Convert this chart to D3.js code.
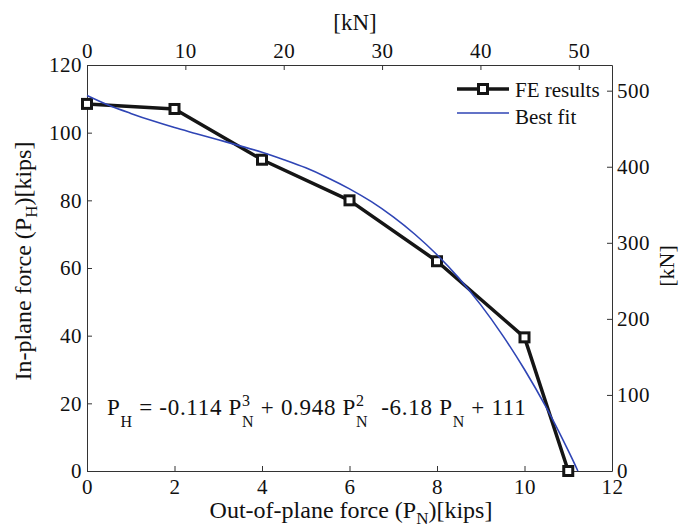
<!DOCTYPE html>
<html>
<head>
<meta charset="utf-8">
<script src="https://cdn.jsdelivr.net/npm/d3@7"></script>
<style>
  html, body { margin: 0; padding: 0; background: #fff; }
  svg { display: block; }
  svg text { font-family: "Times New Roman", "Liberation Serif", Tinos, "DejaVu Serif", serif; fill: #111; }
</style>
</head>
<body>
<svg id="chart" width="679" height="528"></svg>
<script>
// ---- data (kips) ----
const feForce = [0, 2, 4, 6, 8, 10, 11];            // out-of-plane force P_N
const feInPlane = [108.5, 107, 92, 80, 62, 39.5, 0]; // in-plane force P_H

const fitForce = [0, 0.5, 1, 1.5, 2, 2.5, 3, 3.5, 4, 4.5, 5, 5.5, 6, 6.5, 7, 7.5, 8, 8.5, 9, 9.5, 10, 10.5, 11, 11.22];
const fitInPlane = [111, 108.1, 105.7, 103.5, 101.5, 99.7, 97.9, 96.1, 94.2, 92.0, 89.6, 86.7, 83.4, 79.6, 75.1, 69.9, 63.9, 57.0, 49.1, 40.1, 30.0, 18.7, 6.0, 0];

const fitCoeffs = [-0.114, 0.948, -6.18, 111]; // P_N^3, P_N^2, P_N, constant

const xTicks = [0, 2, 4, 6, 8, 10, 12];
const yTicks = [0, 20, 40, 60, 80, 100, 120];
const kNTopTicks = [0, 10, 20, 30, 40, 50];
const kNRightTicks = [0, 100, 200, 300, 400, 500];
const seriesNames = ["FE results", "Best fit"];

const KN_PER_KIP = 4.448;

// ---- layout ----
const svg = d3.select("#chart");
const L = 87, R = 612, T = 65, B = 471;
const SERIF = '"Times New Roman", "Liberation Serif", Tinos, "DejaVu Serif", serif';

const x = d3.scaleLinear().domain([0, 12]).range([L, R]);
const y = d3.scaleLinear().domain([0, 120]).range([B, T]);
const xKN = d3.scaleLinear().domain([0, 12 * KN_PER_KIP]).range([L, R]);
const yKN = d3.scaleLinear().domain([0, 120 * KN_PER_KIP]).range([B, T]);

const tickFont = 21;
function styleAxis(g) {
  g.attr("font-family", SERIF).attr("font-size", tickFont);
  g.selectAll(".domain").attr("stroke", "#333").attr("stroke-width", 1);
  g.selectAll(".tick line").attr("stroke", "#333").attr("stroke-width", 1);
  g.selectAll(".tick text").attr("fill", "#111").attr("letter-spacing", 0.5);
}

svg.append("g").attr("transform", `translate(0,${B})`)
  .call(d3.axisBottom(x).tickValues(xTicks).tickSizeInner(-5).tickSizeOuter(0).tickPadding(8))
  .call(styleAxis);
svg.append("g").attr("transform", `translate(${L},0)`)
  .call(d3.axisLeft(y).tickValues(yTicks).tickSizeInner(-5).tickSizeOuter(0).tickPadding(5))
  .call(styleAxis);
svg.append("g").attr("transform", `translate(0,${T})`)
  .call(d3.axisTop(xKN).tickValues(kNTopTicks).tickSizeInner(-5).tickSizeOuter(0).tickPadding(7))
  .call(styleAxis);
svg.append("g").attr("transform", `translate(${R},0)`)
  .call(d3.axisRight(yKN).tickValues(kNRightTicks).tickSizeInner(-5).tickSizeOuter(0).tickPadding(5))
  .call(styleAxis);

// ---- axis titles ----
const labelFont = 24;
const xl = svg.append("text").attr("x", 351).attr("y", 518).attr("text-anchor", "middle")
  .attr("font-family", SERIF).attr("font-size", labelFont);
xl.append("tspan").text("Out-of-plane force (P");
xl.append("tspan").attr("dy", 6).attr("font-size", 17).text("N");
xl.append("tspan").attr("dy", -6).text(")[kips]");

const yl = svg.append("text").attr("transform", "translate(31,261) rotate(-90)")
  .attr("text-anchor", "middle").attr("font-family", SERIF).attr("font-size", labelFont);
yl.append("tspan").text("In-plane force (P");
yl.append("tspan").attr("dy", 6).attr("font-size", 17).text("H");
yl.append("tspan").attr("dy", -6).text(")[kips]");

svg.append("text").attr("x", 355).attr("y", 30).attr("text-anchor", "middle")
  .attr("font-family", SERIF).attr("font-size", 23).text("[kN]");
svg.append("text").attr("transform", "translate(674,266) rotate(-90)").attr("text-anchor", "middle")
  .attr("font-family", SERIF).attr("font-size", 22).text("[kN]");

// ---- series ----
const feData = feForce.map((d, i) => ({ x: d, y: feInPlane[i] }));
const fitData = fitForce.map((d, i) => ({ x: d, y: fitInPlane[i] }));

const line = d3.line().x(d => x(d.x)).y(d => y(d.y));
const smooth = d3.line().x(d => x(d.x)).y(d => y(d.y)).curve(d3.curveCatmullRom);

const feColor = "#151515", fitColor = "#2f45b5";

svg.append("path").datum(feData).attr("d", line)
  .attr("fill", "none").attr("stroke", feColor).attr("stroke-width", 3.5).attr("stroke-linejoin", "round");
const mk = 9;
svg.append("g").selectAll("rect").data(feData).join("rect")
  .attr("x", d => x(d.x) - mk / 2).attr("y", d => y(d.y) - mk / 2)
  .attr("width", mk).attr("height", mk)
  .attr("fill", "#fff").attr("stroke", feColor).attr("stroke-width", 3);

svg.append("path").datum(fitData).attr("d", smooth)
  .attr("fill", "none").attr("stroke", fitColor).attr("stroke-width", 1.6);

// ---- legend ----
const lg = svg.append("g").attr("font-family", SERIF).attr("font-size", 21);
lg.append("line").attr("x1", 457).attr("x2", 509).attr("y1", 89).attr("y2", 89)
  .attr("stroke", feColor).attr("stroke-width", 3.5);
lg.append("rect").attr("x", 483 - mk / 2).attr("y", 89 - mk / 2).attr("width", mk).attr("height", mk)
  .attr("fill", "#fff").attr("stroke", feColor).attr("stroke-width", 3);
lg.append("text").attr("x", 515).attr("y", 97).text(seriesNames[0]);
lg.append("line").attr("x1", 457).attr("x2", 509).attr("y1", 113).attr("y2", 113)
  .attr("stroke", fitColor).attr("stroke-width", 1.6);
lg.append("text").attr("x", 515).attr("y", 124).text(seriesNames[1]);

// ---- fitted equation ----
const eqFont = 23, scriptFont = 16;
const fmt = v => String(v);
const pieces = [
  { t: "P" }, { sub: "H" },
  { t: " = " + fmt(fitCoeffs[0]) + " " }, { t: "P" }, { sub: "N", sup: "3" },
  { t: " + " + fmt(fitCoeffs[1]) + " " }, { t: "P" }, { sub: "N", sup: "2" },
  { t: "  " + fmt(fitCoeffs[2]) + " " }, { t: "P" }, { sub: "N" },
  { t: " + " + fmt(fitCoeffs[3]) }
];
const eq = svg.append("g").attr("font-family", SERIF).attr("letter-spacing", 0.7);
const eqBase = 415;
let cx = 107;
function put(str, size, dy, xpos) {
  const t = eq.append("text").attr("x", xpos).attr("y", eqBase + dy)
    .attr("font-size", size).style("white-space", "pre").text(str);
  return t.node().getComputedTextLength();
}
pieces.forEach(p => {
  if (p.t !== undefined) {
    cx += put(p.t, eqFont, 0, cx);
  } else {
    let w = put(p.sub, scriptFont, 12, cx);
    if (p.sup) w = Math.max(w, put(p.sup, scriptFont, -9, cx));
    cx += w;
  }
});
</script>
</body>
</html>
